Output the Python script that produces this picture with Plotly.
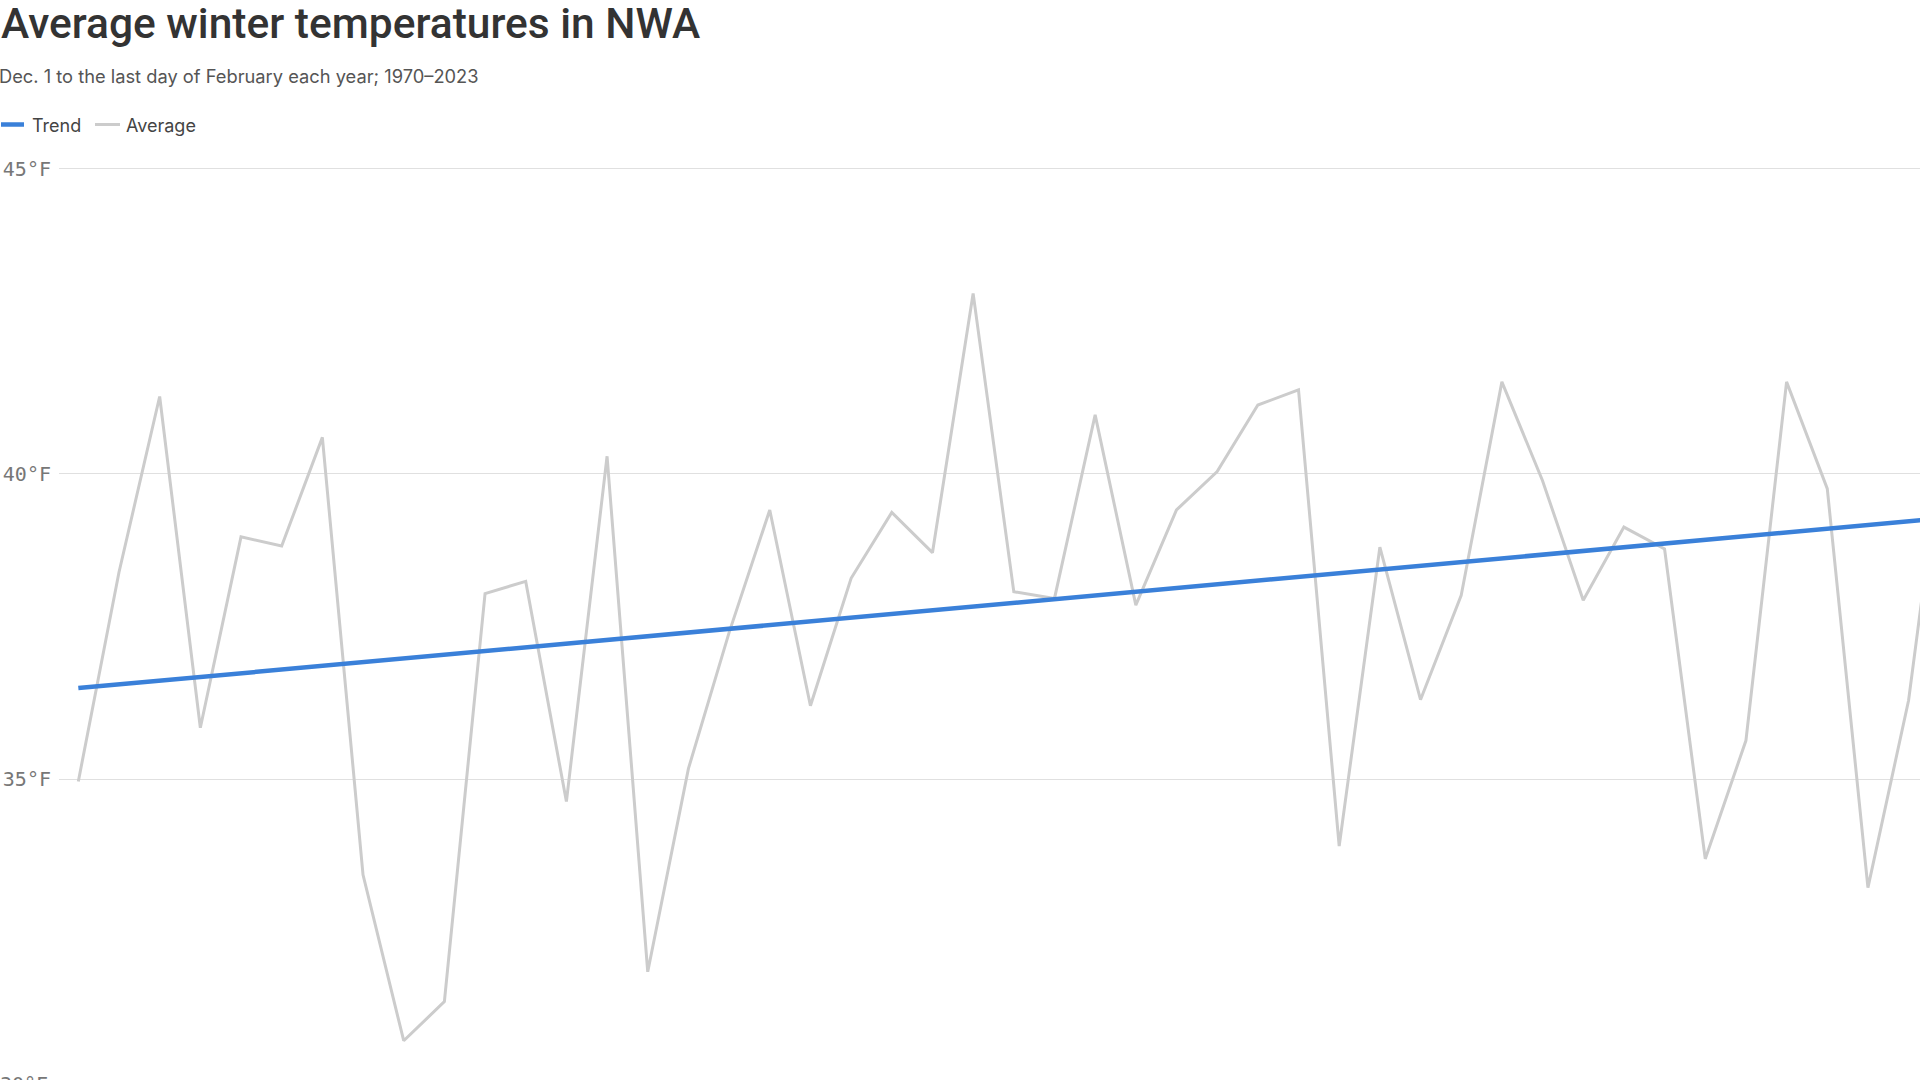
import plotly.graph_objects as go

# ---------------- data ----------------
years = list(range(1970, 2017))
avg_temp = [34.96, 38.39, 41.27, 35.84, 38.97, 38.82, 40.60, 33.43, 30.71, 31.35,
            38.04, 38.24, 34.63, 40.29, 31.84, 35.17, 37.40, 39.41, 36.20, 38.29,
            39.37, 38.71, 42.96, 38.07, 37.96, 40.97, 37.85, 39.41, 40.04, 41.13,
            41.38, 33.90, 38.80, 36.30, 38.01, 41.51, 39.89, 37.93, 39.13, 38.77,
            33.69, 35.63, 41.51, 39.76, 33.22, 36.29, 41.40]
trend_years = [1970, 2023]
trend_temp = [36.49, 39.71]
y_ticks = [30, 35, 40, 45]
y_tick_labels = ["30°F", "35°F", "40°F", "45°F"]

title = "Average winter temperatures in NWA"
subtitle = "Dec. 1 to the last day of February each year; 1970–2023"

# ---------------- layout geometry ----------------
W, H = 1920, 1080
L, T, R, B = 59, 150, 0, 0
PW, PH = W - L - R, H - T - B
Y_RANGE = [30.066, 45.311]
X_RANGE = [1969.525, 2015.28]


def px(x):
    return (x - L) / PW


def py(y):
    return (H - B - y) / PH


BLUE = "#3a80d9"
GRAY = "#cccccc"
SANS = "Inter, Roboto, sans-serif"
TITLE_FONT = "Roboto, Inter, sans-serif"
MONO = "DejaVu Sans Mono, monospace"

fig = go.Figure()
fig.add_trace(go.Scatter(x=years, y=avg_temp, mode="lines", name="Average",
                         line=dict(color=GRAY, width=3), hoverinfo="x+y"))
fig.add_trace(go.Scatter(x=trend_years, y=trend_temp, mode="lines", name="Trend",
                         line=dict(color=BLUE, width=4.5), hoverinfo="x+y"))

annotations = [
    dict(text=title, x=px(-1), y=py(24), xref="paper", yref="paper",
         xanchor="left", yanchor="middle", showarrow=False,
         font=dict(family=TITLE_FONT, size=42.5, weight=500, color="#333333")),
    dict(text=subtitle, x=px(-3), y=py(76), xref="paper", yref="paper",
         xanchor="left", yanchor="middle", showarrow=False,
         font=dict(family=SANS, size=18.3, color="#555555")),
    dict(text="Trend", x=px(30), y=py(125), xref="paper", yref="paper",
         xanchor="left", yanchor="middle", showarrow=False,
         font=dict(family=SANS, size=18, color="#444444")),
    dict(text="Average", x=px(124), y=py(125), xref="paper", yref="paper",
         xanchor="left", yanchor="middle", showarrow=False,
         font=dict(family=SANS, size=18, color="#444444")),
    dict(text=y_tick_labels[0], x=px(50), y=py(1084), xref="paper", yref="paper",
         xanchor="right", yanchor="middle", showarrow=False,
         font=dict(family=MONO, size=20, color="#777777")),
]

shapes = [
    dict(type="line", xref="paper", yref="paper", x0=px(1), x1=px(24),
         y0=py(124.5), y1=py(124.5), line=dict(color=BLUE, width=4.5)),
    dict(type="line", xref="paper", yref="paper", x0=px(95), x1=px(120),
         y0=py(124.5), y1=py(124.5), line=dict(color=GRAY, width=3)),
]

fig.update_layout(
    width=W, height=H,
    margin=dict(l=L, r=R, t=T, b=B, pad=0),
    paper_bgcolor="white", plot_bgcolor="white",
    showlegend=False,
    annotations=annotations,
    shapes=shapes,
    xaxis=dict(range=X_RANGE, showgrid=False, zeroline=False, showline=False,
               showticklabels=False, ticks=""),
    yaxis=dict(range=Y_RANGE, tickvals=y_ticks, ticktext=y_tick_labels,
               showgrid=True, gridcolor="#e0e0e0", gridwidth=1,
               zeroline=False, showline=False, ticks="",
               ticklabelstandoff=7,
               tickfont=dict(family=MONO, size=20, color="#777777")),
)

fig.write_html(
    "out.html",
    config={"displayModeBar": False},
    post_script="document.body.style.margin='0';"
                "document.body.style.padding='0';"
                "document.body.style.overflow='hidden';",
)
